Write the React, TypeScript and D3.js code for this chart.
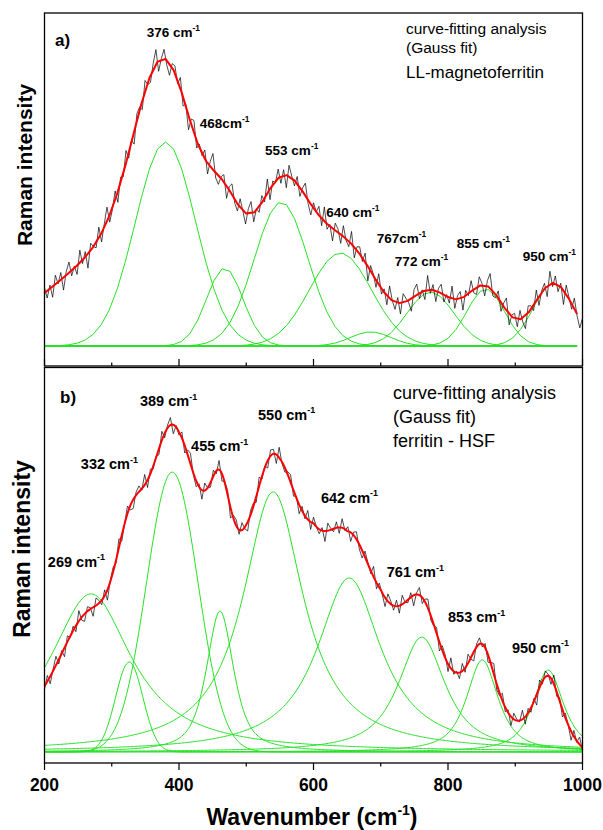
import React from 'react';
import * as d3 from 'd3';

const W = 603, H = 830;
const FONT = 'Arial, "Liberation Sans", sans-serif';

// shared wavenumber axis
const xMajorTicks = [200, 400, 600, 800, 1000];
const xMinorTicks = [300, 500, 700, 900];

// a) LL-magnetoferritin : Gaussian components
const peaksA = [380, 468, 552, 640, 685, 774, 856, 957];
const heightsA = [68, 26, 48, 31, 4.7, 18, 19, 21];
const sigmasA = [45, 27, 40, 46, 30, 35, 28, 30];
// broad background included in the fit (centre, height, sigma)
const backgroundA = [320, 32, 110];
// residuals of measured spectrum around the fit (a)
const noiseA = [3,-4,2,-6,5,-1,4,-7,2,6,-3,1,-5,7,-2,3,-8,4,0,-3,6,-5,2,8,-4,-1,5,-6,3,-2,7,-3,1,-7,4,2,-5,6,-1,-4,3,8,-6,0,5,-3,-7,2,4,-2,6,-5,1,-8,3,7,-4,2,-1,5,-6,3,9,-3,-5,1,4,-7,2,6,-2,-4,5,0,-6,3,7,-5,1,-3,4,-2,8,-6,2,-1,5,-4,3,-7,6,1,-3,4,-5,2,7,-2,-6,3,0,5,-4,8,-3,1,-7,4,2,-5,6,-1,-3,7,-6,2,4,-2,5,-8,3,1,-4,6,-3,2,-5,7,0,-4,3,-6,5,2,-1,-7,4,6,-3,1,-5,8,-2,3,-6,2,5,-4,1,-3,7,-5,2,4,-7,3,-1,6,-2,-4,5,1,-6,3,8,-3,-2,4,-5,2,7,-6,1,3,-4,5,-2,-7,4,2,-3,6,-5,1,3,-6,7,-2,4,-4,2,-8,5,1,-3,6,-1,-5,3];
const labelsA: [string, number, number][] = [
  ['376 cm', 352, 103], ['468cm', 431, 72.7], ['553 cm', 528, 63.7], ['640 cm', 619, 43],
  ['767cm', 694, 34.3], ['772 cm', 721, 26.7], ['855 cm', 813, 32.7], ['950 cm', 911, 28.3],
];
const notesA = ['curve-fitting analysis', '(Gauss fit)', 'LL-magnetoferritin'];

// b) ferritin - HSF : pseudo-Voigt components (HWHM, lorentzian fraction)
const peaksB = [269, 326, 390, 461, 540, 653, 761, 851, 949];
const heightsB = [52.7, 30, 93.3, 47, 86.7, 58, 38.3, 30.7, 27.3];
const hwhmB = [74, 24, 45, 24, 55, 58, 42, 28, 27];
const lorentzB = [1, 0, 0, 0.7, 1, 1, 0.9, 0.8, 0.8];
// baseline of the envelope fit
const fitBaseKnotsB = [200, 300, 400, 500, 550, 600, 650, 700, 800, 900, 1000];
const fitBaseB = [-10, -12.5, -16, -7, -7.5, -1, -9, -5, -11, -10.5, -9];
const noiseB = [-2,4,-5,1,6,-3,2,-6,4,-1,3,-4,7,-2,-5,3,1,-6,5,2,-3,4,-7,1,3,-2,6,-4,0,5,-3,-6,2,4,-1,7,-5,3,-2,1,-4,6,-3,2,5,-6,1,-2,4,-5,3,7,-1,-4,2,-6,5,0,-3,4,-2,6,-5,1,3,-7,2,4,-3,5,-1,-6,3,2,-4,6,-2,1,-5,4,3,-6,7,-1,-3,2,5,-4,1,-6,3,-2,6,-5,4,0,-3,2,-7,5,1,-2,4,-4,6,-1,3,-6,2,5,-3,-5,4,1,-2,7,-4,3,-1,-6,5,2,-3,4,-5,6,0,-2,3,-7,1,5,-4,2,6,-3,-1,4,-6,3,2,-5,7,-2,1,-4,5,-3,6,-1,-6,2,4,-2,3,-5,1,7,-4,-2,5,-3,2,-6,4,1,-1,6,-5,3,-3,2,-7,5,-2,4,1,-4,6,-3,2,-5,3,0,-6,4,-1,5,-2];
const labelsB: [string, number, number][] = [
  ['389 cm', 342, 115.3], ['332 cm', 254, 94.3], ['455 cm', 418, 100.3], ['550 cm', 517.5, 110.7],
  ['642 cm', 611, 83], ['761 cm', 709, 58.3], ['269 cm', 205, 61.7], ['853 cm', 800, 43.3], ['950 cm', 895, 33],
];
const notesB = ['curve-fitting analysis', '(Gauss fit)', 'ferritin - HSF'];

const gauss = (x: number, c: number, h: number, s: number) => h * Math.exp(-((x - c) ** 2) / (2 * s * s));
const pvoigt = (x: number, c: number, h: number, w: number, eta: number) => {
  const u = (x - c) / w;
  return h * (eta / (1 + u * u) + (1 - eta) * Math.exp(-Math.LN2 * u * u));
};

const x = d3.scaleLinear().domain([200, 1000]).range([44.5, 582.5]);
const yA = d3.scaleLinear().domain([-20 / 3, (346 - 13) / 3]).range([366, 13]);
const yB = d3.scaleLinear().domain([-11 / 3, (752 - 367.5) / 3]).range([763, 367.5]);
const baseB = d3.scaleLinear().domain(fitBaseKnotsB).range(fitBaseB);

const GREEN = '#26e026';

function Panel({ y, comps, fit, noise, noiseScale, step, labels, notes, tag, tagPos, notePos, noteSizes, lineGap, labelSize, id }: any) {
  const top = y.range()[1], bottom = y.range()[0];
  const grid = d3.range(200, 1000 + 0.001, step);
  const line = d3.line<[number, number]>().x(d => x(d[0])).y(d => y(d[1]));
  const nStep = 800 / (noise.length - 1);
  const measured: [number, number][] = noise.map((r: number, i: number) => {
    const w = 200 + i * nStep;
    return [w, fit(w) + r * noiseScale];
  });
  return (
    <g>
      <defs>
        <clipPath id={id}><rect x={x(200)} y={top} width={x(1000) - x(200)} height={bottom - top} /></clipPath>
      </defs>
      <g clipPath={`url(#${id})`}>
        {comps.map((f: (w: number) => number, i: number) => (
          <path key={i} d={line(grid.map(w => [w, f(w)]) as [number, number][]) || ''} fill="none" stroke={GREEN} strokeWidth={1} />
        ))}
        <path d={line(measured) || ''} fill="none" stroke="#000" strokeWidth={0.7} />
        <path d={line(grid.map(w => [w, fit(w)]) as [number, number][]) || ''} fill="none" stroke="#ff0000" strokeWidth={2} strokeLinejoin="round" />
      </g>
      <rect x={x(200)} y={top} width={x(1000) - x(200)} height={bottom - top} fill="none" stroke="#000" strokeWidth={1.3} />
      <text x={tagPos[0]} y={tagPos[1]} fontFamily={FONT} fontWeight="bold" fontSize={17}>{tag}</text>
      {labels.map(([t, w, v]: [string, number, number], i: number) => (
        <text key={i} x={x(w)} y={y(v)} fontFamily={FONT} fontWeight="bold" fontSize={labelSize}>
          {t}<tspan fontSize={labelSize * 0.62} dy={-labelSize * 0.45}>-1</tspan>
        </text>
      ))}
      {notes.map((t: string, i: number) => (
        <text key={i} x={notePos[0]} y={notePos[1] + lineGap[i]} fontFamily={FONT} fontSize={noteSizes[i]}>{t}</text>
      ))}
    </g>
  );
}

export default function App() {
  const compsA = peaksA.map((c, i) => (w: number) => gauss(w, c, heightsA[i], sigmasA[i]));
  const fitA = (w: number) => compsA.reduce((s, f) => s + f(w), 0) + gauss(w, backgroundA[0], backgroundA[1], backgroundA[2]);
  const compsB = peaksB.map((c, i) => (w: number) => pvoigt(w, c, heightsB[i], hwhmB[i], lorentzB[i]));
  const fitB = (w: number) => compsB.reduce((s, f) => s + f(w), 0) + baseB(w);

  const axisY = yB.range()[0];
  const aBottom = yA.range()[0];
  return (
    <svg width={W} height={H} style={{ position: 'absolute', left: 0, top: 0, background: '#fff' }}>
      <Panel id="clipA" y={yA} comps={compsA} fit={fitA} noise={noiseA} noiseScale={0.6} step={12}
        labels={labelsA} notes={notesA} tag="a)" tagPos={[55, 46]} notePos={[406, 34]}
        noteSizes={[15.5, 15.5, 17]} lineGap={[0, 19, 44]} labelSize={13.5} />
      <Panel id="clipB" y={yB} comps={compsB} fit={fitB} noise={noiseB} noiseScale={0.5} step={2}
        labels={labelsB} notes={notesB} tag="b)" tagPos={[60, 403]} notePos={[393, 399]}
        noteSizes={[18, 18, 18]} lineGap={[0, 24, 48]} labelSize={14.5} />

      {/* ticks of panel a (inward) */}
      {xMajorTicks.map(t => <line key={'am' + t} x1={x(t)} x2={x(t)} y1={aBottom} y2={aBottom - 7} stroke="#000" strokeWidth={1.2} />)}
      {xMinorTicks.map(t => <line key={'an' + t} x1={x(t)} x2={x(t)} y1={aBottom} y2={aBottom - 3.5} stroke="#000" strokeWidth={1.2} />)}
      {/* ticks of panel b (outward) */}
      {xMajorTicks.map(t => <line key={'bm' + t} x1={x(t)} x2={x(t)} y1={axisY} y2={axisY + 7} stroke="#000" strokeWidth={1.2} />)}
      {xMinorTicks.map(t => <line key={'bn' + t} x1={x(t)} x2={x(t)} y1={axisY} y2={axisY + 3.5} stroke="#000" strokeWidth={1.2} />)}
      {xMajorTicks.map(t => (
        <text key={'bl' + t} x={x(t)} y={791} textAnchor="middle" fontFamily={FONT} fontWeight="bold" fontSize={17.5}>{t}</text>
      ))}

      <text x={312} y={825} textAnchor="middle" fontFamily={FONT} fontWeight="bold" fontSize={23}>
        Wavenumber (cm<tspan fontSize={14} dy={-10}>-1</tspan><tspan dy={10}>)</tspan>
      </text>
      <text transform="translate(32,165) rotate(-90)" textAnchor="middle" fontFamily={FONT} fontWeight="bold" fontSize={21}>Raman intensity</text>
      <text transform="translate(30,549) rotate(-90)" textAnchor="middle" fontFamily={FONT} fontWeight="bold" fontSize={23}>Raman intensity</text>
    </svg>
  );
}
